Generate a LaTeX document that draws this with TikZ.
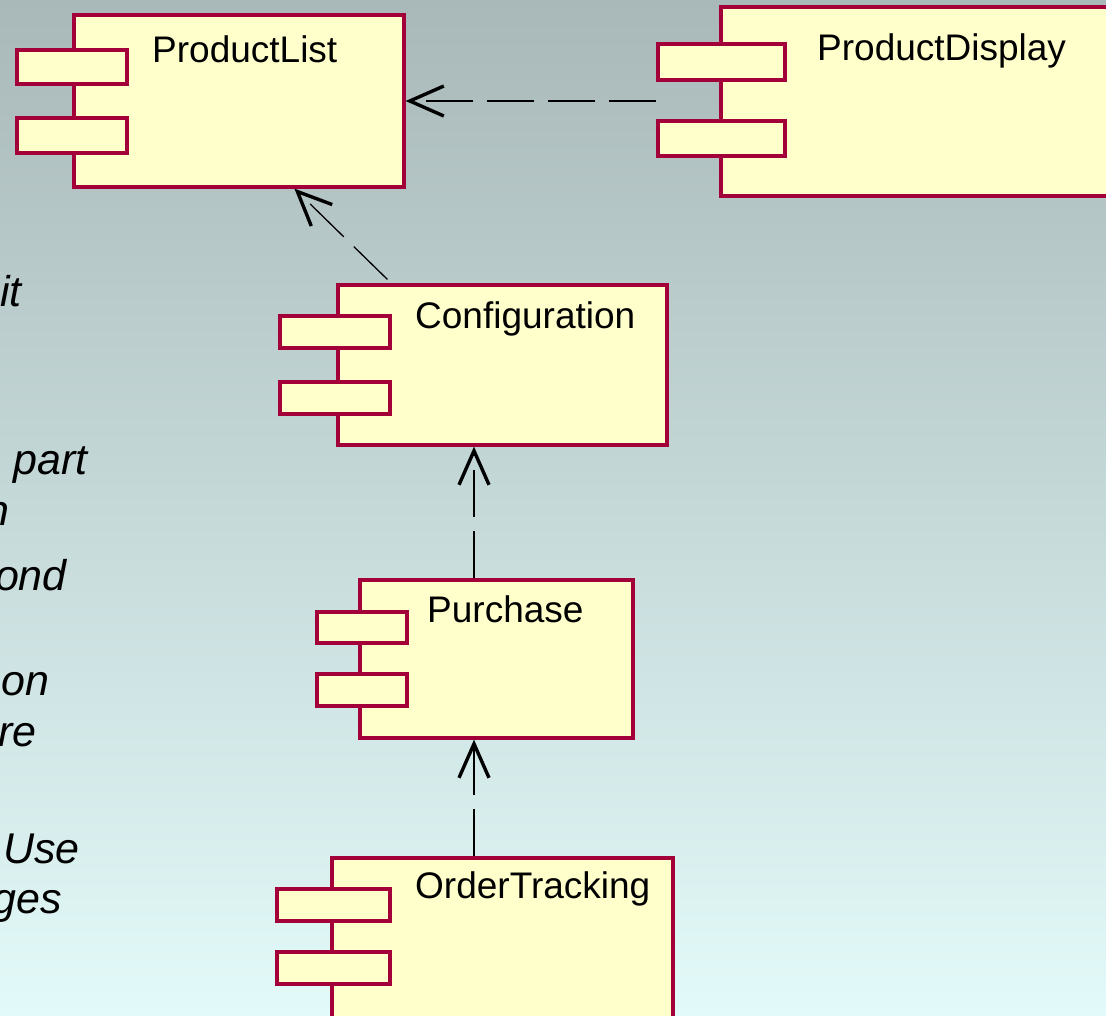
\documentclass[tikz,border=0pt]{standalone}
\usepackage{fontspec}
\setmainfont{Liberation Sans}
\usetikzlibrary{arrows.meta, positioning, fit}

\definecolor{compline}{RGB}{163,0,58}
\definecolor{compfill}{RGB}{255,255,204}
\definecolor{bgtop}{RGB}{169,184,185}
\definecolor{bgmid}{RGB}{204,222,221}
\definecolor{bgbot}{RGB}{226,250,249}

\tikzset{
	compbox/.style={draw=compline, fill=compfill, line width=3.2pt, inner sep=0pt},
	comptab/.style={compbox},
	complabel/.style={anchor=base west, inner sep=0pt, font=\fontsize{37}{44}\selectfont},
	sidetext/.style={anchor=base east, inner sep=0pt, font=\fontsize{43}{50}\selectfont\itshape},
	dep/.style={line width=1.3pt, dash pattern=on 47pt off 14pt,
		-{Straight Barb[length=34pt, width=30pt, line width=3.4pt]}},
}

\begin{document}
\begin{tikzpicture}[x=1pt, y=-1pt]
	% ====== page and background ======
	\useasboundingbox (0,0) rectangle (1106,1015);
	\clip (0,0) rectangle (1106,1015);
	\shade[top color=bgtop, middle color=bgmid, bottom color=bgbot] (0,0) rectangle (1106,1015);
	
	% ====== left text (cut off by the page edge) ======
	\node[sidetext] (s1) at (22,306) {it};
	\node[sidetext] (s2) at (88,474) {part};
	\node[sidetext] (s3) at (10,525) {n};
	\node[sidetext] (s4) at (67,590) {ond};
	\node[sidetext] (s5) at (50,695) {on};
	\node[sidetext] (s6) at (37,746) {re};
	\node[sidetext] (s7) at (80,863) {Use};
	\node[sidetext] (s8) at (62,913) {ges};
	
	% ====== ProductList ======
	\node[compbox, fit={(74,15) (404,187)}] (plist) {};
	\node[comptab, fit={(17,50) (127,84)}] (plist-a) {};
	\node[comptab, fit={(17,118) (127,153)}] (plist-b) {};
	\node[complabel] (plist-l) at (152,62) {ProductList};
	
	% ====== ProductDisplay (runs past the right edge) ======
	\node[compbox, fit={(721,7) (1130,196)}] (pdisp) {};
	\node[comptab, fit={(658,44) (785,80)}] (pdisp-a) {};
	\node[comptab, fit={(658,121) (785,156)}] (pdisp-b) {};
	\node[complabel] (pdisp-l) at (817,60) {ProductDisplay};
	
	% ====== Configuration ======
	\node[compbox, fit={(338,285) (667,445)}] (conf) {};
	\node[comptab, fit={(280,316) (390,348)}] (conf-a) {};
	\node[comptab, fit={(280,382) (390,414)}] (conf-b) {};
	\node[complabel] (conf-l) at (415,328) {Configuration};
	
	% ====== Purchase ======
	\node[compbox, fit={(360,580) (633,738)}] (purch) {};
	\node[comptab, fit={(317,612) (407,643)}] (purch-a) {};
	\node[comptab, fit={(317,674) (407,706)}] (purch-b) {};
	\node[complabel] (purch-l) at (427,622) {Purchase};
	
	% ====== OrderTracking (runs past the bottom edge) ======
	\node[compbox, fit={(332,858) (673,1040)}] (otrack) {};
	\node[comptab, fit={(277,889) (390,921)}] (otrack-a) {};
	\node[comptab, fit={(277,952) (390,984)}] (otrack-b) {};
	\node[complabel] (otrack-l) at (415,898) {OrderTracking};
	
	% ====== dependencies ======
	\coordinate (spine) at (474,0);
	\draw[dep] (pdisp-a.west |- plist.east) -- (plist.east);
	\draw[dep] ([xshift=51pt, yshift=4pt]conf.north west) -- ([xshift=222pt]plist.south west);
	\draw[dep] (purch.north -| spine) -- (conf.south -| spine);
	\draw[dep] (otrack.north -| spine) -- (purch.south -| spine);
\end{tikzpicture}
\end{document}
